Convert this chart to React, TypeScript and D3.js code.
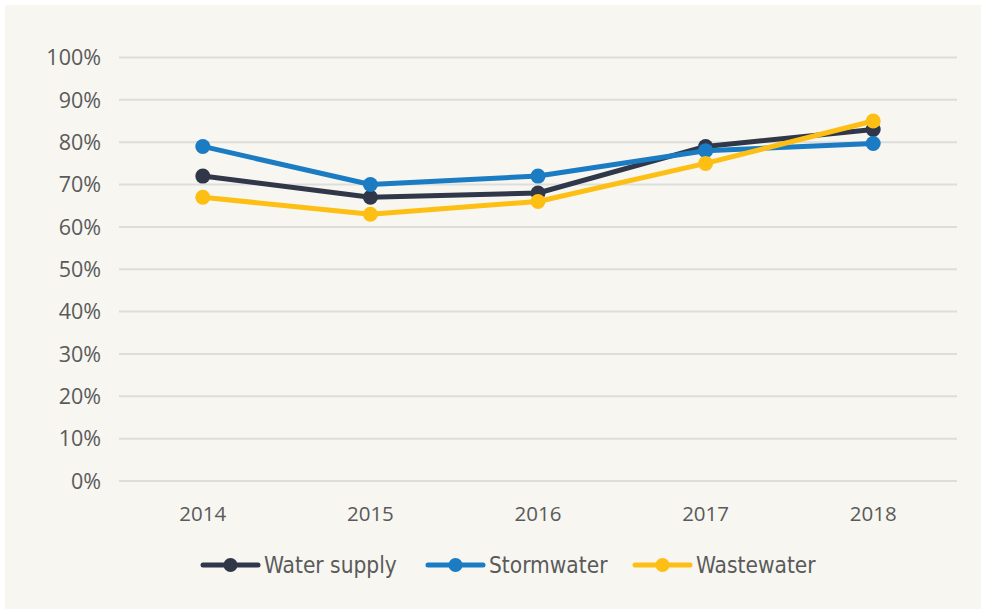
import React, { useEffect, useRef } from 'react';
import * as d3 from 'd3';

const years = ['2014', '2015', '2016', '2017', '2018'];
const waterSupply = [72, 67, 68, 79, 83];
const stormwater = [79, 70, 72, 78, 79.7];
const wastewater = [67, 63, 66, 75, 85];
const yTicks = [0, 10, 20, 30, 40, 50, 60, 70, 80, 90, 100];

const series = [
  { name: 'Water supply', values: waterSupply, color: '#2f3748' },
  { name: 'Stormwater', values: stormwater, color: '#1b7bc3' },
  { name: 'Wastewater', values: wastewater, color: '#fdbf13' },
];

function App() {
  const svgRef = useRef<SVGSVGElement>(null);

  useEffect(() => {
    const svg = d3.select(svgRef.current);
    svg.selectAll('*').remove();

    // panel
    svg.append('rect')
      .attr('x', 5).attr('y', 5)
      .attr('width', 976).attr('height', 604)
      .attr('fill', '#f7f6f1');

    const left = 119, right = 957, top = 57.5, bottom = 481;

    const x = d3.scalePoint<string>()
      .domain(years)
      .range([left, right])
      .padding(0.5);

    const y = d3.scaleLinear()
      .domain([0, 100])
      .range([bottom, top]);

    // gridlines + y labels
    const yAxis = svg.append('g');
    yAxis.selectAll('line')
      .data(yTicks)
      .join('line')
      .attr('x1', left).attr('x2', right)
      .attr('y1', d => y(d)).attr('y2', d => y(d))
      .attr('stroke', '#dddddb')
      .attr('stroke-width', 2);

    yAxis.selectAll('text')
      .data(yTicks)
      .join('text')
      .attr('x', 101)
      .attr('y', d => y(d))
      .attr('dy', '0.36em')
      .attr('text-anchor', 'end')
      .attr('font-family', 'Open Sans, sans-serif')
      .attr('font-size', 21.5)
      .attr('fill', '#5a5a5a')
      .text(d => `${d}%`);

    // x labels
    svg.append('g').selectAll('text')
      .data(years)
      .join('text')
      .attr('x', d => x(d) as number)
      .attr('y', 521)
      .attr('text-anchor', 'middle')
      .attr('font-family', 'Open Sans, sans-serif')
      .attr('font-size', 20.5)
      .attr('fill', '#5a5a5a')
      .text(d => d);

    const line = d3.line<number>()
      .x((_, i) => x(years[i]) as number)
      .y(d => y(d));

    series.forEach(s => {
      const g = svg.append('g');
      g.append('path')
        .datum(s.values)
        .attr('fill', 'none')
        .attr('stroke', s.color)
        .attr('stroke-width', 5)
        .attr('stroke-linejoin', 'round')
        .attr('d', line);
      g.selectAll('circle')
        .data(s.values)
        .join('circle')
        .attr('cx', (_, i) => x(years[i]) as number)
        .attr('cy', d => y(d))
        .attr('r', 7.5)
        .attr('fill', s.color);
    });

    // legend
    const legendX = [203, 428, 635];
    const legend = svg.append('g');
    series.forEach((s, i) => {
      const lg = legend.append('g').attr('transform', `translate(${legendX[i]},565)`);
      lg.append('line')
        .attr('x1', 0).attr('x2', 55)
        .attr('stroke', s.color)
        .attr('stroke-width', 5)
        .attr('stroke-linecap', 'round');
      lg.append('circle')
        .attr('cx', 27.5)
        .attr('r', 7)
        .attr('fill', s.color);
      lg.append('text')
        .attr('x', 61)
        .attr('dy', '0.35em')
        .attr('font-family', 'Liberation Sans Narrow, DejaVu Sans Condensed, sans-serif')
        .attr('font-size', 22.5)
        .attr('fill', '#5a5a5a')
        .text(s.name);
    });
  }, []);

  return (
    <svg
      ref={svgRef}
      width={981}
      height={610}
      style={{ position: 'absolute', left: 0, top: 0, background: '#ffffff' }}
    />
  );
}

export default App;
